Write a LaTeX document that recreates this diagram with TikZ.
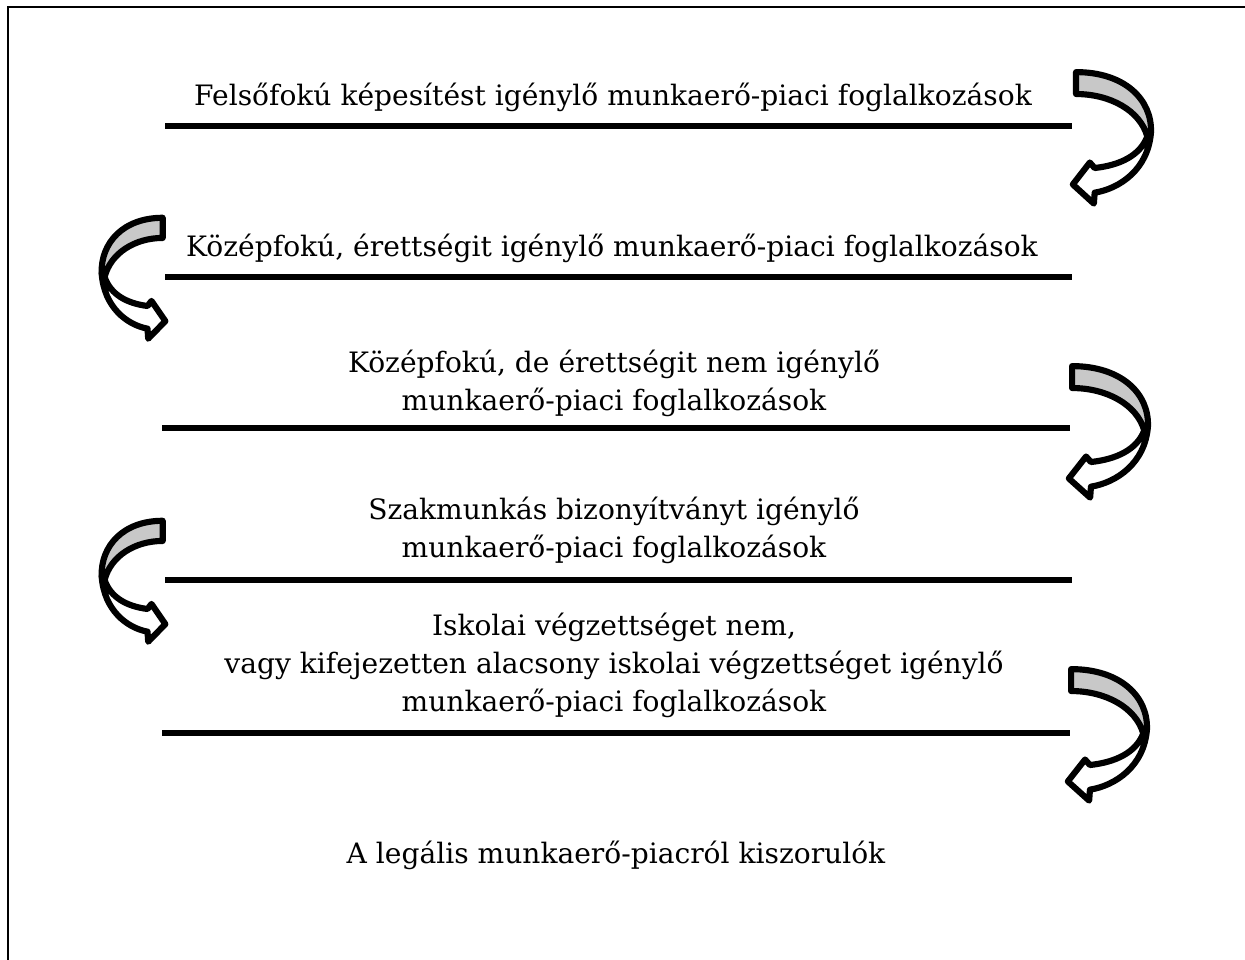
\documentclass[tikz,border=0pt]{standalone}
\usepackage{fontspec}
\setmainfont{DejaVu Serif}
\usetikzlibrary{calc}

\definecolor{ribbongrey}{RGB}{200,200,200}

\tikzset{
  levelbar/.style={line width=3.3pt},
  leveltext/.style={align=center, font=\fontsize{16}{21.6}\selectfont, inner sep=0pt},
  ribbon/.style={draw=black, line width=3.5pt, line join=round},
  curvedarrow/.pic={
    % lower band with the head
    \path[ribbon, fill=white] (0.93,0.5) .. controls (0.84,0.64) and (0.59,0.71) .. (0.28,0.73)
      -- (0.22,0.69) -- (0.01,0.85) -- (0.27,0.99) -- (0.28,0.91)
      .. controls (0.59,0.88) and (0.94,0.74) .. (0.975,0.47) -- cycle;
    % upper band, seen from behind
    \path[ribbon, fill=ribbongrey] (0.05,0.03) .. controls (0.65,0.03) and (0.99,0.23) .. (0.975,0.47)
      -- (0.93,0.5) .. controls (0.84,0.31) and (0.47,0.19) .. (0.05,0.19) -- cycle;
  }
}

\begin{document}
\begin{tikzpicture}[x=0.02cm, y=-0.02cm]
    \useasboundingbox (0,0) rectangle (1245,960);
    % frame
    \draw[line width=1.7pt] (8,960) -- (8,7) -- (1245,7);

    % levels
    \node[leveltext] (felso) at (613,97) {Felsőfokú képesítést igénylő munkaerő-piaci foglalkozások};
    \node[leveltext] (erett) at (612,248) {Középfokú, érettségit igénylő munkaerő-piaci foglalkozások};
    \node[leveltext] (kozep) at (614,383) {Középfokú, de érettségit nem igénylő\\munkaerő-piaci foglalkozások};
    \node[leveltext] (szak) at (614,530) {Szakmunkás bizonyítványt igénylő\\munkaerő-piaci foglalkozások};
    \node[leveltext] (iskola) at (614,665) {Iskolai végzettséget nem,\\vagy kifejezetten alacsony iskolai végzettséget igénylő\\munkaerő-piaci foglalkozások};
    \node[leveltext] (kiszor) at (616,855) {A legális munkaerő-piacról kiszorulók};

    \draw[levelbar] (165,126) -- (1072,126);
    \draw[levelbar] (165,277) -- (1072,277);
    \draw[levelbar] (162,428) -- (1070,428);
    \draw[levelbar] (165,580) -- (1072,580);
    \draw[levelbar] (162,733) -- (1070,733);

    % arrows between the levels
    \pic[shift={(1072,68)}, xscale=81, yscale=137] {curvedarrow};
    \pic[shift={(166,214)}, xscale=-66, yscale=126] {curvedarrow};
    \pic[shift={(1068,362)}, xscale=82, yscale=137] {curvedarrow};
    \pic[shift={(166,517)}, xscale=-66, yscale=126] {curvedarrow};
    \pic[shift={(1067,665)}, xscale=82, yscale=137] {curvedarrow};
\end{tikzpicture}
\end{document}
